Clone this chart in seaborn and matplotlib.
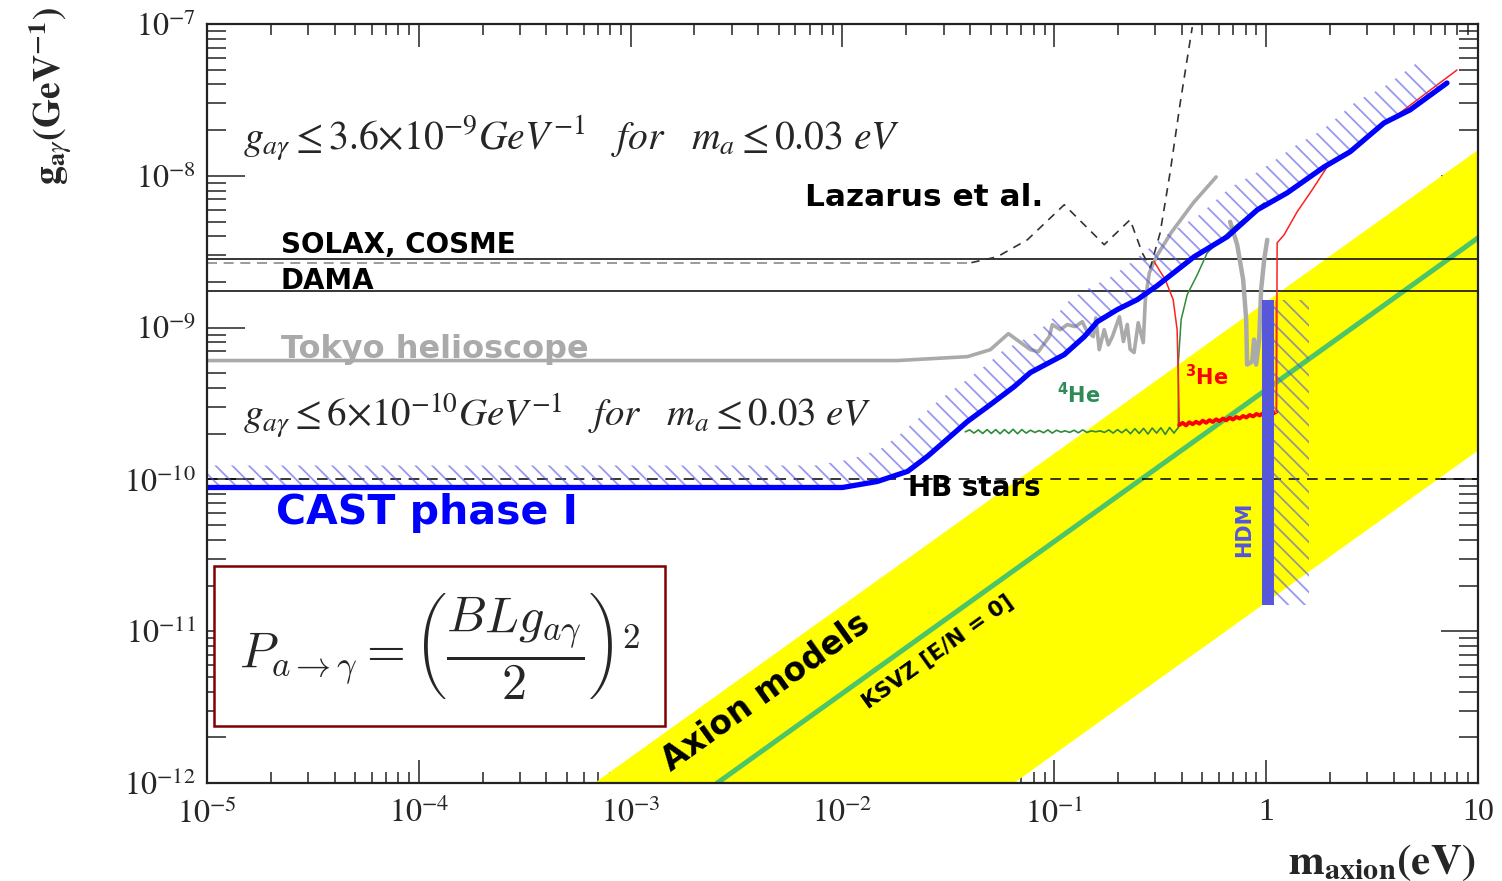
import numpy as np
import matplotlib
matplotlib.use("Agg")
import matplotlib.pyplot as plt
from matplotlib.ticker import FixedLocator, FixedFormatter, LogLocator, NullFormatter
import seaborn as sns

# ------------------------------------------------------------------
# Data: axion mass in eV, axion-photon coupling in GeV^-1
# ------------------------------------------------------------------
x_ticks = [1e-5, 1e-4, 1e-3, 1e-2, 1e-1, 1, 10]
x_tick_labels = [r"$10^{-5}$", r"$10^{-4}$", r"$10^{-3}$", r"$10^{-2}$", r"$10^{-1}$", "1", "10"]
y_ticks = [1e-12, 1e-11, 1e-10, 1e-9, 1e-8, 1e-7]
y_tick_labels = [r"$10^{-12}$", r"$10^{-11}$", r"$10^{-10}$", r"$10^{-9}$", r"$10^{-8}$", r"$10^{-7}$"]

# CAST phase I exclusion limit
cast_mass = [1e-5, 0.01, 0.01462, 0.0203, 0.0252, 0.0323, 0.0389, 0.0499, 0.0647, 0.0771,
             0.1114, 0.1387, 0.1596, 0.198, 0.2466, 0.306, 0.457, 0.655, 0.908, 1.256,
             1.879, 2.49, 3.60, 4.78, 7.14]
cast_g = [8.85e-11, 8.85e-11, 9.7e-11, 1.13e-10, 1.42e-10, 1.92e-10, 2.41e-10, 3.11e-10,
          4.09e-10, 5.06e-10, 6.64e-10, 8.73e-10, 1.094e-9, 1.313e-9, 1.53e-9, 1.89e-9,
          2.93e-9, 3.97e-9, 5.97e-9, 7.72e-9, 1.146e-8, 1.44e-8, 2.23e-8, 2.72e-8, 4.09e-8]

# Tokyo helioscope
tokyo_mass = [1e-5, 0.01816, 0.0389, 0.0499, 0.0607, 0.0771, 0.0841, 0.0947, 0.0979, 0.1067,
              0.1151, 0.1256, 0.1356, 0.143, 0.1527, 0.157, 0.163, 0.172, 0.180, 0.188,
              0.203, 0.212, 0.221, 0.228, 0.238, 0.249, 0.263, 0.269, 0.281, 0.303,
              0.356, 0.453, 0.581]
tokyo_g = [6.07e-10, 6.07e-10, 6.44e-10, 7.16e-10, 9.13e-10, 7.16e-10, 6.95e-10, 8.73e-10,
           1.047e-9, 9.70e-10, 1.047e-9, 1.016e-9, 1.094e-9, 9.4e-10, 8.73e-10, 1.16e-9,
           7.16e-10, 9.70e-10, 7.7e-10, 8.73e-10, 1.18e-9, 8.1e-10, 1.05e-9, 7.2e-10,
           6.85e-10, 1.078e-9, 7.96e-10, 1.53e-9, 2.30e-9, 2.93e-9, 4.22e-9, 6.64e-9, 9.84e-9]
tokyo_hi_mass = [0.676, 0.730, 0.779, 0.805, 0.813, 0.859, 0.877, 0.897, 0.927, 0.947, 0.979, 1.012]
tokyo_hi_g = [4.98e-9, 3.52e-9, 2.07e-9, 1.13e-9, 5.71e-10, 5.98e-10, 8.34e-10, 5.71e-10,
              8.34e-10, 1.78e-9, 2.80e-9, 3.79e-9]

# Lazarus et al.
lazarus_flat_mass = [1e-5, 0.0406]
lazarus_flat_g = [2.68e-9, 2.68e-9]
lazarus_mass = [0.0406, 0.0538, 0.0746, 0.1114, 0.172, 0.228, 0.260, 0.284, 0.316, 0.352, 0.393, 0.448]
lazarus_g = [2.68e-9, 2.93e-9, 3.79e-9, 6.45e-9, 3.52e-9, 5.14e-9, 3.11e-9, 2.48e-9,
             4.22e-9, 1.05e-8, 3.02e-8, 9.55e-8]

# Horizontal limits
solax_g = 2.85e-9
dama_g = 1.75e-9
hb_g = 1.0e-10

# CAST 4He phase
he4_mass_range = [0.038, 0.385]
he4_wiggle_g = [2.06, 2.12, 2.02, 2.12, 2.01, 2.13, 2.01, 2.13, 2.00, 2.13, 2.01, 2.14, 2.00,
                2.13, 2.02, 2.11, 2.04, 2.10, 2.03, 2.12, 2.02, 2.11, 2.05, 2.09, 2.04, 2.11,
                2.03, 2.12, 2.04, 2.09, 2.06, 2.09, 2.04, 2.12, 2.02, 2.13, 2.03, 2.14, 2.00,
                2.16, 2.01, 2.17, 1.99, 2.18, 2.02, 2.19, 1.98, 2.20, 2.02, 2.20]
he4_rise_mass = [0.385, 0.385, 0.397, 0.424, 0.473, 0.527, 0.707, 0.979]
he4_rise_g = [2.20e-10, 5.89e-10, 1.13e-9, 1.65e-9, 2.23e-9, 3.11e-9, 4.61e-9, 6.64e-9]

# CAST 3He phase
he3_left_mass = [0.296, 0.334, 0.364, 0.380, 0.385, 0.389]
he3_left_g = [2.72e-9, 2.07e-9, 1.53e-9, 9.7e-10, 4.55e-10, 2.30e-10]
he3_mass_range = [0.389, 1.12]
he3_flat_g = [2.28, 2.36, 2.27, 2.38, 2.31, 2.40, 2.33, 2.44, 2.36, 2.46, 2.39, 2.49, 2.42,
              2.52, 2.45, 2.55, 2.48, 2.58, 2.52, 2.62, 2.56, 2.66, 2.60, 2.70, 2.64, 2.73,
              2.68, 2.77, 2.72, 2.80]
he3_right_mass = [1.12, 1.127, 1.216, 1.40, 1.65, 1.94, 2.49, 3.60, 5.16, 7.96]
he3_right_g = [2.80e-10, 3.62e-9, 4.09e-9, 5.79e-9, 8.09e-9, 1.146e-8, 1.416e-8, 2.17e-8,
               3.16e-8, 4.98e-8]
he3_edge_mass = [1.108, 1.108]
he3_edge_g = [2.8e-10, 1.5e-9]

# Hot dark matter bound
hdm_mass = [0.957, 1.09]
hdm_hatch_mass = [1.09, 1.60]
hdm_g = [1.48e-11, 1.53e-9]

# Axion model band and KSVZ line
axion_band_mass = [1e-4, 20.0]
axion_band_upper = [1.48e-13, 2.96e-8]
axion_band_lower = [1.55e-15, 3.10e-10]
ksvz_g = [3.9e-14, 7.8e-9]

# ------------------------------------------------------------------
sns.set_theme(style="ticks")
plt.rcParams["font.family"] = ["DejaVu Sans"]
plt.rcParams["mathtext.fontset"] = "stix"
plt.rcParams["hatch.linewidth"] = 1.3

fig = plt.figure(figsize=(15.02, 8.81), dpi=100)
ax = fig.add_axes([0.1378, 0.1112, 0.8462, 0.8615])
ax.set_xscale("log")
ax.set_yscale("log")
ax.set_xlim(1e-5, 10)
ax.set_ylim(1e-12, 1e-7)


def trace(mass, g, **kw):
    sns.lineplot(x=list(mass), y=list(g), ax=ax, estimator=None, sort=False, **kw)


# axion models band and KSVZ line
ax.fill_between(axion_band_mass, axion_band_lower, axion_band_upper,
                color="#ffff00", lw=0, zorder=1)
trace(axion_band_mass, ksvz_g, color="#4cc46a", lw=3.6, zorder=2)

# horizontal bounds
ax.axhline(solax_g, color="black", lw=1.1, zorder=3)
ax.axhline(dama_g, color="black", lw=1.1, zorder=3)
ax.axhline(hb_g, color="black", lw=1.1, ls=(0, (7, 5)), zorder=3)

# Tokyo helioscope
trace(tokyo_mass, tokyo_g, color="#aaaaaa", lw=2.6, zorder=4)
trace(tokyo_hi_mass, tokyo_hi_g, color="#aaaaaa", lw=3.2, zorder=4)

# Lazarus et al.
trace(lazarus_flat_mass, lazarus_flat_g, color="#8a8a8a", lw=1.2, linestyle=(0, (6, 4)), zorder=4)
trace(lazarus_mass, lazarus_g, color="#333333", lw=1.2, linestyle=(0, (5, 4)), zorder=4)

# 4He and 3He phases
he4_mass = np.geomspace(he4_mass_range[0], he4_mass_range[1], len(he4_wiggle_g))
trace(he4_mass, np.array(he4_wiggle_g) * 1e-10, color="#2f8a3a", lw=1.2, zorder=5)
trace(he4_rise_mass, he4_rise_g, color="#2f8a3a", lw=1.1, zorder=5)

he3_mass = np.geomspace(he3_mass_range[0], he3_mass_range[1], len(he3_flat_g))
trace(he3_left_mass, he3_left_g, color="#ff2020", lw=1.1, zorder=5)
trace(he3_mass, np.array(he3_flat_g) * 1e-10, color="#ff0000", lw=2.8, zorder=5)
trace(he3_edge_mass, he3_edge_g, color="#ff9900", lw=1.6, zorder=5)
trace(he3_right_mass, he3_right_g, color="#ff2020", lw=1.1, zorder=5)

# HDM bound with hatched excluded side
hatch_col = (0.33, 0.33, 0.92, 0.6)
ax.fill_between(hdm_hatch_mass, [hdm_g[0]] * 2, [hdm_g[1]] * 2, facecolor="none",
                edgecolor=hatch_col, hatch="\\\\", lw=0, zorder=5)
ax.fill_between(hdm_mass, [hdm_g[0]] * 2, [hdm_g[1]] * 2, color="#5757d9", lw=0, zorder=6)

# CAST exclusion: hatched band above the limit curve
cm = np.array(cast_mass)
cg = np.array(cast_g)
band_m = np.concatenate([cm, (cm * 10 ** -0.13)[::-1]])
band_g = np.concatenate([cg, (cg * 10 ** 0.145)[::-1]])
ax.fill(band_m, band_g, facecolor="none", edgecolor=hatch_col, hatch="\\\\", lw=0, zorder=6)
trace(cast_mass, cast_g, color="#0000ff", lw=3.8, zorder=7)

# ------------------------------------------------------------------
# axes styling
ax.xaxis.set_major_locator(FixedLocator(x_ticks))
ax.xaxis.set_major_formatter(FixedFormatter(x_tick_labels))
ax.yaxis.set_major_locator(FixedLocator(y_ticks))
ax.yaxis.set_major_formatter(FixedFormatter(y_tick_labels))
for axis in (ax.xaxis, ax.yaxis):
    axis.set_minor_locator(LogLocator(base=10, subs=np.arange(2, 10), numticks=100))
    axis.set_minor_formatter(NullFormatter())

ax.tick_params(which="both", direction="in", top=True, right=True, bottom=True, left=True,
               color="#222222", width=1.1)
ax.tick_params(axis="x", which="major", length=16.5, pad=11, labelsize=23,
               labelfontfamily="Liberation Serif")
ax.tick_params(axis="x", which="minor", length=8)
ax.tick_params(axis="y", which="major", length=27, pad=8, labelsize=23,
               labelfontfamily="Liberation Serif")
ax.tick_params(axis="y", which="minor", length=14)
for sp in ax.spines.values():
    sp.set_linewidth(1.6)
    sp.set_color("#222222")
    sp.set_zorder(10)

ax.set_ylabel(r"$\mathbf{g}_{\mathbf{a}\gamma}\mathbf{(GeV^{-1})}$", fontsize=27, rotation=90)
ax.yaxis.set_label_coords(-0.104, 0.905)
ax.set_xlabel(r"$\mathbf{m}_{\mathbf{axion}}\mathbf{(eV)}$", fontsize=31, loc="right")
ax.xaxis.set_label_coords(0.998, -0.076)

# ------------------------------------------------------------------
# annotations
ax.text(1.48e-5, 1.48e-8,
        r"$g_{a\gamma} \leq 3.6{\times}10^{-9}GeV^{-1}\quad for\quad m_a \leq 0.03\ eV$",
        fontsize=28.5, math_fontfamily="stix", va="baseline", ha="left", zorder=9)
ax.text(1.48e-5, 2.23e-10,
        r"$g_{a\gamma} \leq 6{\times}10^{-10}GeV^{-1}\quad for\quad m_a \leq 0.03\ eV$",
        fontsize=28, math_fontfamily="stix", va="baseline", ha="left", zorder=9)

ax.text(6.62e-3, 6.35e-9, "Lazarus et al.", fontsize=22.5, fontweight="bold", color="black",
        va="baseline", zorder=9)
ax.text(2.23e-5, 3.11e-9, "SOLAX, COSME", fontsize=20, fontweight="bold", color="black",
        va="baseline", zorder=9)
ax.text(2.23e-5, 1.81e-9, "DAMA", fontsize=20, fontweight="bold", color="black",
        va="baseline", zorder=9)
ax.text(2.23e-5, 6.3e-10, "Tokyo helioscope", fontsize=23, fontweight="bold", color="#aaaaaa",
        va="baseline", zorder=9)
ax.text(0.0203, 7.73e-11, "HB stars", fontsize=20, fontweight="bold", color="black",
        va="baseline", zorder=9)
ax.text(2.11e-5, 5.05e-11, "CAST phase I", fontsize=29.5, fontweight="bold", color="#0000ff",
        va="baseline", zorder=9)
ax.text(0.131, 3.62e-10, r"$^{\mathbf{4}}$He", fontsize=15, fontweight="bold", color="#2e8b57",
        math_fontfamily="dejavusans", ha="center", va="center", zorder=9)
ax.text(0.527, 4.76e-10, r"$^{\mathbf{3}}$He", fontsize=15, fontweight="bold", color="#ff0000",
        math_fontfamily="dejavusans", ha="center", va="center", zorder=9)
ax.text(0.79, 4.69e-11, "HDM", fontsize=15, fontweight="bold", color="#5555dd", rotation=90,
        ha="center", va="center", zorder=9)


def screen_angle(m0, g0, m1, g1):
    p0 = ax.transData.transform((m0, g0))
    p1 = ax.transData.transform((m1, g1))
    return np.degrees(np.arctan2(p1[1] - p0[1], p1[0] - p0[0]))


band_angle = screen_angle(axion_band_mass[0], ksvz_g[0], axion_band_mass[1], ksvz_g[1])
ax.text(4.33e-3, 3.97e-12, "Axion models", fontsize=23.5, fontweight="bold", color="black",
        rotation=band_angle, rotation_mode="anchor", ha="center", va="center", zorder=9)
ax.text(0.0281, 7.38e-12, "KSVZ [E/N = 0]", fontsize=15.5, fontweight="semibold", color="black",
        rotation=band_angle, rotation_mode="anchor", ha="center", va="center", zorder=9)

# conversion probability formula
ax.text(1.256e-4, 7.96e-12,
        r"$P_{a\rightarrow\gamma} = \left(\dfrac{BLg_{a\gamma}}{2}\right)^2$",
        fontsize=36, math_fontfamily="cm", ha="center", va="center", zorder=9,
        bbox=dict(boxstyle="square,pad=0.5", facecolor="white", edgecolor="#800000", lw=1.8))

fig.savefig("out.png", dpi=100)
